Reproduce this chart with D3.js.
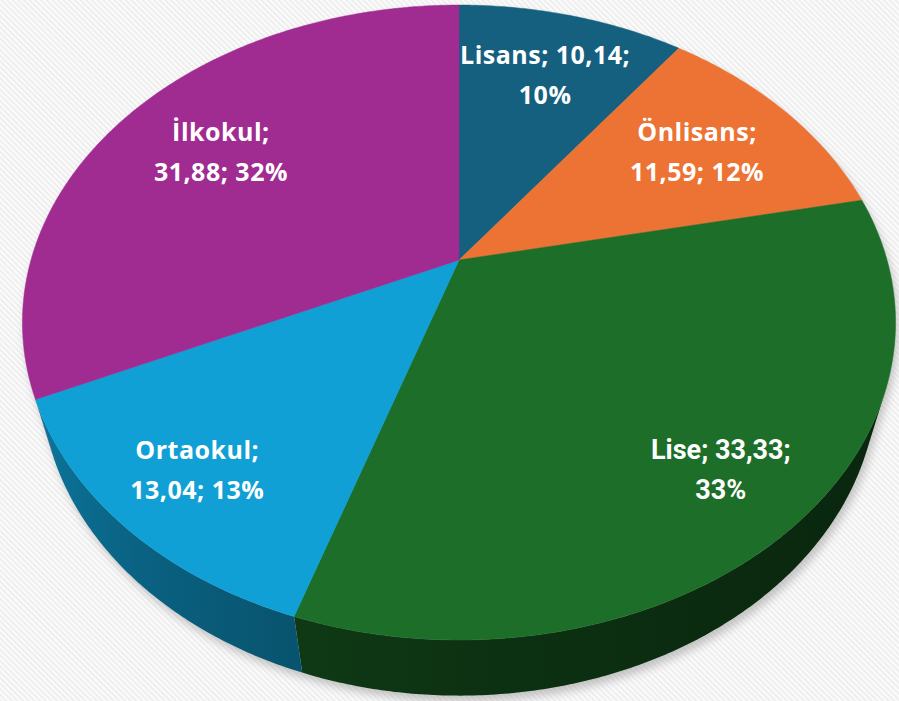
<!DOCTYPE html>
<html>
<head>
<meta charset="utf-8">
<script src="https://cdn.jsdelivr.net/npm/d3@7"></script>
<style>
  body { margin: 0; background: #fff; }
</style>
</head>
<body>
<script>
 //Data
 var categories = ["Lisans", "Önlisans", "Lise", "Ortaokul", "İlkokul"];
 var values = [10.14, 11.59, 33.33, 13.04, 31.88];
 var colors = ["#16607f", "#ec7334", "#1c6e29", "#10a0d5", "#a02b91"];
 //how many label parts go on the first line (name; value; percent)
 var firstLineParts = [2, 1, 2, 1, 1];

 var width = 899,
     height = 701;

 //Perspective of the 3D pie
 var cx = 459, cy = 260, R = 428,
     sinB = 0.713, cosB = 0.701,
     focal = 3.56, depth = 0.21;

 function project(a, r, y) {
     var x = r * Math.sin(a),
         z = r * Math.cos(a);
     var yc = y * cosB + z * sinB,
         zc = z * cosB - y * sinB;
     var k = focal / (focal + zc);
     return [cx + R * x * k, cy - R * yc * k];
 }

 var trFormat = d3.formatLocale({
     decimal: ",",
     thousands: ".",
     grouping: [3],
     currency: ["", ""]
 });
 var fmtValue = trFormat.format(".2f"),
     fmtPct = d3.format(".0%");

 var total = d3.sum(values);
 var data = categories.map(function(c, i) {
     return { name: c, value: values[i], color: colors[i], parts: firstLineParts[i] };
 });

 var pie = d3.pie()
     .sort(null)
     .value(function(d) { return d.value; });
 var arcs = pie(data);

 var line = d3.line();
 var step = Math.PI / 360;

 function arcPoints(a0, a1, r, y) {
     var n = Math.max(2, Math.ceil((a1 - a0) / step));
     return d3.range(n + 1).map(function(i) {
         return project(a0 + (a1 - a0) * i / n, r, y);
     });
 }

 var svg = d3.select("body")
     .append("svg")
     .attr("width", width)
     .attr("height", height);

 var defs = svg.append("defs");

 //Background stripes
 var pat = defs.append("pattern")
     .attr("id", "stripes")
     .attr("patternUnits", "userSpaceOnUse")
     .attr("width", 4)
     .attr("height", 4)
     .attr("patternTransform", "rotate(-45)");
 pat.append("rect").attr("width", 4).attr("height", 4).attr("fill", "#fbfbfb");
 pat.append("rect").attr("width", 1.6).attr("height", 4).attr("fill", "#ececec");

 var shadow = defs.append("filter")
     .attr("id", "shadow")
     .attr("x", "-10%").attr("y", "-10%")
     .attr("width", "120%").attr("height", "120%");
 shadow.append("feGaussianBlur").attr("stdDeviation", 4);

 svg.append("rect")
     .attr("width", width)
     .attr("height", height)
     .attr("fill", "url(#stripes)");

 //Visible part of the side (facing the viewer)
 var visA = Math.acos(-1 / (focal * cosB)),
     visB = 2 * Math.PI - visA;

 //Shadow of the whole pie
 svg.append("path")
     .attr("d", line(arcPoints(0, 2 * Math.PI, 1, 0)) + "Z" + line(arcPoints(visA, visB, 1, -depth).concat(arcPoints(visA, visB, 1, 0).reverse())) + "Z")
     .attr("transform", "translate(3,6)")
     .attr("fill", "#9a9a9a")
     .attr("opacity", 0.55)
     .attr("filter", "url(#shadow)");

 function wallShade(a) {
     var u = (a - visA) / (visB - visA);
     return 0.36 + 0.4 * u * u;
 }

 //Side walls, one path per slice with a gradient
 var walls = svg.append("g").attr("class", "walls");
 arcs.forEach(function(d, i) {
     var a0 = Math.max(d.startAngle, visA),
         a1 = Math.min(d.endAngle, visB);
     if (a1 <= a0) return;
     var top = arcPoints(a0, a1, 1, 0),
         bottom = arcPoints(a0, a1, 1, -depth);
     var xs = top.concat(bottom).map(function(p) { return p[0]; });
     var x0 = d3.min(xs), x1 = d3.max(xs);
     var grad = defs.append("linearGradient")
         .attr("id", "wall" + i)
         .attr("gradientUnits", "userSpaceOnUse")
         .attr("x1", x0).attr("x2", x1)
         .attr("y1", 0).attr("y2", 0);
     var offset = d3.scaleLinear().domain([x0, x1]).range([0, 1]).clamp(true);
     var stops = d3.range(11).map(function(j) {
         var a = a0 + (a1 - a0) * j / 10;
         return { o: offset(project(a, 1, 0)[0]), c: d3.interpolateRgb("#000000", d.data.color)(wallShade(a)) };
     }).sort(function(p, q) { return p.o - q.o; });
     grad.selectAll("stop")
         .data(stops)
         .enter()
         .append("stop")
         .attr("offset", function(s) { return s.o; })
         .attr("stop-color", function(s) { return s.c; });
     walls.append("path")
         .attr("d", line(top.concat(bottom.reverse())) + "Z")
         .attr("fill", "url(#wall" + i + ")");
 });

 //Top faces
 svg.append("g")
     .attr("class", "slices")
     .selectAll("path")
     .data(arcs)
     .enter()
     .append("path")
     .attr("d", function(d) {
         return line([project(0, 0, 0)].concat(arcPoints(d.startAngle, d.endAngle, 1, 0))) + "Z";
     })
     .attr("fill", function(d) { return d.data.color; })
     .attr("stroke", function(d) { return d.data.color; })
     .attr("stroke-width", 0.5);

 //Labels
 var labels = svg.append("g")
     .attr("class", "labels")
     .selectAll("text")
     .data(arcs)
     .enter()
     .append("text")
     .attr("text-anchor", "middle")
     .attr("fill", "#ffffff")
     .style("font-weight", "bold")
     .style("font-family", function(d) {
         return d.data.name === "Lise" ? "Roboto, sans-serif" : "'Open Sans', sans-serif";
     })
     .style("font-size", function(d) {
         return d.data.name === "Lise" ? "27px" : "25px";
     })
     .style("letter-spacing", function(d) {
         return d.data.name === "Lise" ? "0px" : "0.5px";
     })
     .attr("transform", function(d) {
         var mid = (d.startAngle + d.endAngle) / 2;
         var c = Math.cos(mid);
         var r = 0.722 - 0.062 * c + 0.074 * c * c;
         var p = project(mid, r, 0);
         return "translate(" + p[0] + "," + p[1] + ")";
     });

 labels.each(function(d) {
     var parts = [d.data.name, fmtValue(d.data.value), fmtPct(d.data.value / total)];
     var lines = [parts.slice(0, d.data.parts).join("; ") + ";",
         parts.slice(d.data.parts).join("; ")];
     var t = d3.select(this);
     lines.forEach(function(l, i) {
         t.append("tspan")
             .attr("x", 0)
             .attr("y", -10 + i * 40)
             .text(l);
     });
 });
</script>
</body>
</html>
